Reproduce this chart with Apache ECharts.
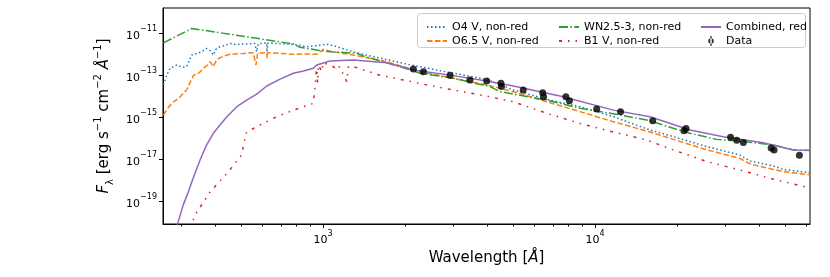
<!DOCTYPE html>
<html><head><meta charset="utf-8">
<script src="https://cdn.jsdelivr.net/npm/echarts@6/dist/echarts.min.js"></script>
<style>html,body{margin:0;padding:0;background:#fff}#c{width:830px;height:277px}</style>
</head><body><div id="c"></div>
<script>
// ---- data (wavelength in Angstrom, flux in erg s^-1 cm^-2 A^-1) ----
const o4Wave = [259,266,274,290,305,315,329,345,360,373,385,395,405,418,435,455,480,509,540,562,570,578,621,622,626,700,778,871,950,1032,1100,1292,1406,1974,2616,3996,5010,6640,8810,11670,15920,19400,25800,34100,37200,45300,49200,61800];
const o4Flux = [3.5e-14,1.0e-13,2.15e-13,3.1e-13,2.4e-13,2.6e-13,9.3e-13,1.1e-12,1.4e-12,1.9e-12,1.5e-12,9.3e-13,1.8e-12,2.3e-12,2.6e-12,3.3e-12,2.9e-12,3.1e-12,3.2e-12,3.3e-12,1.3e-12,3.2e-12,3.5e-12,1.3e-12,3.4e-12,3.2e-12,3.0e-12,2.3e-12,2.6e-12,3.0e-12,2.5e-12,1.3e-12,1.0e-12,3.7e-13,1.78e-13,6.4e-14,2.0e-14,7.2e-15,3.2e-15,1.07e-15,2.5e-16,1.2e-16,4.0e-17,1.6e-17,8.3e-18,4.8e-18,3.3e-18,2.3e-18];

const o65Wave = [259,270,282,295,306,315,334,350,363,375,385,395,405,418,435,455,509,554,567,575,621,622,626,700,778,850,948,1003,1061,1292,1714,2275,3013,3996,5010,6640,8810,11670,15920,19400,25800,34100,37200,45300,49200,61800];
const o65Flux = [1.3e-15,3e-15,5.5e-15,8e-15,1.4e-14,2.0e-14,1.0e-13,1.3e-13,2.15e-13,3.0e-13,4.4e-13,2.6e-13,5e-13,6.9e-13,8.5e-13,1.0e-12,1.1e-12,1.2e-12,3.1e-13,1.15e-12,1.2e-12,6.5e-13,1.2e-12,1.1e-12,1.0e-12,1.05e-12,1.0e-12,1.7e-12,1.4e-12,9.3e-13,4.4e-13,1.5e-13,7.2e-14,3.5e-14,1.66e-14,5.5e-15,1.86e-15,6.2e-16,2.0e-16,8.9e-17,2.8e-17,1.1e-17,6e-18,3.3e-18,2.6e-18,1.8e-18];

const wnWave = [259,329,570,778,823,948,1061,1330,1420,1918,2275,3013,4110,4480,6640,8810,12360,15920,19400,22350,28000,34100,45300,53600,61800];
const wnFlux = [3.5e-12,1.7e-11,5.8e-12,3.1e-12,2.15e-12,1.6e-12,1.33e-12,1.12e-12,8.0e-13,2.6e-13,1.26e-13,7.2e-14,2.9e-14,1.66e-14,6.6e-15,2.7e-15,1.29e-15,6.9e-16,3.0e-16,1.74e-16,8.9e-17,7.4e-17,4.8e-17,2.8e-17,2.6e-17];

const b1Wave = [325,338,385,443,502,516,524,586,676,778,921,935,948,955,962,975,990,1000,1061,1100,1123,1150,1222,1240,1292,1620,1974,2404,3013,3996,5010,6640,8810,11670,15490,19400,25800,34100,45300,61800];
const b1Flux = [5e-21,2.2e-20,2.9e-19,2.1e-18,1.6e-17,1.0e-16,2.0e-16,4.3e-16,1.07e-15,2.2e-15,4.6e-15,3e-14,3.1e-13,4.3e-14,3.1e-13,3.7e-13,1.5e-13,4e-13,3.1e-13,2.4e-13,1.8e-13,2.6e-13,5e-14,2.6e-13,2.6e-13,1.0e-13,6.0e-14,3.5e-14,2.0e-14,1.02e-14,5.5e-15,1.55e-15,5.1e-16,2.0e-16,8.3e-17,2.8e-17,7.8e-18,3.1e-18,1.12e-18,4.3e-19];

const combWave = [285,306,320,333,353,373,395,418,443,482,524,570,621,695,778,847,921,948,1061,1292,1714,2148,2930,3996,5010,7640,11670,15920,22350,29600,41500,53600,61800];
const combFlux = [3e-21,6.6e-20,2.9e-19,1.26e-18,9.3e-18,4.8e-17,1.74e-16,4.3e-16,1.07e-15,3.2e-15,6.6e-15,1.26e-14,3.1e-14,6.6e-14,1.26e-13,1.6e-13,2.15e-13,3.1e-13,4.8e-13,5.4e-13,4.0e-13,1.78e-13,1.02e-13,5.4e-14,3.1e-14,9.5e-15,2.2e-15,1.07e-15,2.5e-16,1.2e-16,6.2e-17,2.8e-17,2.7e-17];

const dataWave = [2148,2339,2930,3468,3996,4510,4530,5445,6420,6470,7810,8050,10140,12410,16290,21230,21600,31500,33200,35100,44400,45500,56400];
const dataFlux = [2.0e-13,1.48e-13,1.02e-13,6.0e-14,5.4e-14,4.2e-14,2.9e-14,2.0e-14,1.48e-14,9.5e-15,9.5e-15,6.1e-15,2.5e-15,1.86e-15,6.9e-16,2.3e-16,2.9e-16,1.12e-16,8.0e-17,6.4e-17,3.5e-17,2.8e-17,1.55e-17];

const xMajorTicks = [1e3, 1e4];
const xMinorTicks = [300,400,500,600,700,800,900,2000,3000,4000,5000,6000,7000,8000,9000,20000,30000,40000,50000,60000];
const yMajorTicks = [1e-19, 1e-17, 1e-15, 1e-13, 1e-11];

const seriesNames = ['O4 V, non-red','O6.5 V, non-red','WN2.5-3, non-red','B1 V, non-red','Combined, red','Data'];

// ---- build ----
const zip = (a, b) => a.map((v, i) => [v, b[i]]);
const FONT = 'DejaVu Sans';
const X_MIN = 258, X_MAX = 61700;
const Y_MIN = Math.pow(10, -20.08), Y_MAX = Math.pow(10, -9.795);

const supFmt = v => {
  const e = Math.round(Math.log10(v));
  return '{a|10}{b|' + String(e).replace('-', '\u2212') + '}';
};
const tickRich = {
  a: {fontFamily: FONT, fontSize: 11, color: '#000', lineHeight: 16, verticalAlign: 'bottom'},
  b: {fontFamily: FONT, fontSize: 8, color: '#000', lineHeight: 16, verticalAlign: 'top'}
};

const lineSeries = (name, w, f, color, type) => ({
  name, type: 'line', data: zip(w, f), showSymbol: false, symbol: 'none',
  lineStyle: {color, width: 1.5, type}, itemStyle: {color},
  clip: true, z: 2
});

const noSym = name => ({name, itemStyle: {opacity: 0}});
const legendBase = {orient: 'vertical', top: 16, itemWidth: 20, itemHeight: 10, itemGap: 2,
  textStyle: {fontFamily: FONT, fontSize: 11, color: '#000', lineHeight: 12}};

const chart = echarts.init(document.getElementById('c'), null, {renderer: 'canvas'});
chart.setOption({
  animation: false,
  backgroundColor: '#fff',
  grid: {left: 163, right: 20, top: 8, bottom: 53, show: true, borderColor: '#000', borderWidth: 1, backgroundColor: 'transparent'},
  xAxis: [{
    type: 'log', min: X_MIN, max: X_MAX, logBase: 10,
    name: '{t|Wavelength [}{i|\u00c5}{t|]}', nameLocation: 'middle', nameGap: 20,
    nameTextStyle: {rich: {
      t: {fontFamily: FONT, fontSize: 15, color: '#000'},
      i: {fontFamily: FONT, fontSize: 15, color: '#000', fontStyle: 'italic'}
    }},
    axisLine: {show: true, lineStyle: {color: '#000', width: 1}},
    axisTick: {show: true, length: 4, lineStyle: {color: '#000'}, customValues: xMajorTicks},
    axisLabel: {customValues: xMajorTicks, formatter: supFmt, rich: tickRich, margin: 6},
    splitLine: {show: false}, minorTick: {show: false}
  }, {
    type: 'log', min: X_MIN, max: X_MAX, logBase: 10, position: 'bottom',
    axisLine: {show: false},
    axisTick: {show: true, length: 2.5, lineStyle: {color: '#000'}, customValues: xMinorTicks},
    axisLabel: {show: false}, splitLine: {show: false}
  }],
  yAxis: [{
    type: 'log', min: Y_MIN, max: Y_MAX, logBase: 10,
    name: '{i|F}{sub|\u03bb}{t| [erg s}{sup|\u22121}{t| cm}{sup|\u22122}{t| }{i|\u00c5}{sup|\u22121}{t|]}',
    nameLocation: 'middle', nameRotate: 90, nameGap: 30,
    nameTextStyle: {rich: {
      t: {fontFamily: FONT, fontSize: 15, color: '#000', lineHeight: 22, verticalAlign: 'middle'},
      i: {fontFamily: FONT, fontSize: 15, color: '#000', fontStyle: 'italic', lineHeight: 22, verticalAlign: 'middle'},
      sub: {fontFamily: FONT, fontSize: 10, color: '#000', lineHeight: 22, verticalAlign: 'bottom'},
      sup: {fontFamily: FONT, fontSize: 10, color: '#000', lineHeight: 22, verticalAlign: 'top'}
    }},
    axisLine: {show: true, lineStyle: {color: '#000', width: 1}},
    axisTick: {show: true, length: 4, lineStyle: {color: '#000'}, customValues: yMajorTicks},
    axisLabel: {customValues: yMajorTicks, formatter: supFmt, rich: tickRich, margin: 6},
    splitLine: {show: false}
  }],
  legend: [
    Object.assign({left: 421, data: [noSym(seriesNames[0]), noSym(seriesNames[1])]}, legendBase),
    Object.assign({left: 553, data: [noSym(seriesNames[2]), noSym(seriesNames[3])]}, legendBase),
    Object.assign({left: 695, data: [noSym(seriesNames[4]),
      {name: seriesNames[5], icon: 'path://M4.3,0 H5.7 V10 H4.3 Z M5,2.2 A2.8,2.8 0 1 0 5,7.8 A2.8,2.8 0 1 0 5,2.2 Z', itemStyle: {color: '#000'}}]}, legendBase)
  ],
  graphic: [{
    type: 'rect', left: 417, top: 13, z: 3,
    shape: {width: 388, height: 34, r: 3},
    style: {fill: 'rgba(255,255,255,0.8)', stroke: '#cccccc', lineWidth: 1}
  }],
  series: [
    lineSeries(seriesNames[0], o4Wave, o4Flux, '#1f77b4', [1.5, 2.5]),
    lineSeries(seriesNames[1], o65Wave, o65Flux, '#ff7f0e', [5.5, 2.4]),
    lineSeries(seriesNames[2], wnWave, wnFlux, '#2ca02c', [9, 2.4, 1.5, 2.4]),
    lineSeries(seriesNames[3], b1Wave, b1Flux, '#d62728', [3, 6, 1.5, 6, 1.5, 6]),
    lineSeries(seriesNames[4], combWave, combFlux, '#9467bd', 'solid'),
    {name: seriesNames[5], type: 'scatter', data: zip(dataWave, dataFlux), symbol: 'circle', symbolSize: 7,
     itemStyle: {color: '#000'}, z: 5}
  ]
});
</script></body></html>
